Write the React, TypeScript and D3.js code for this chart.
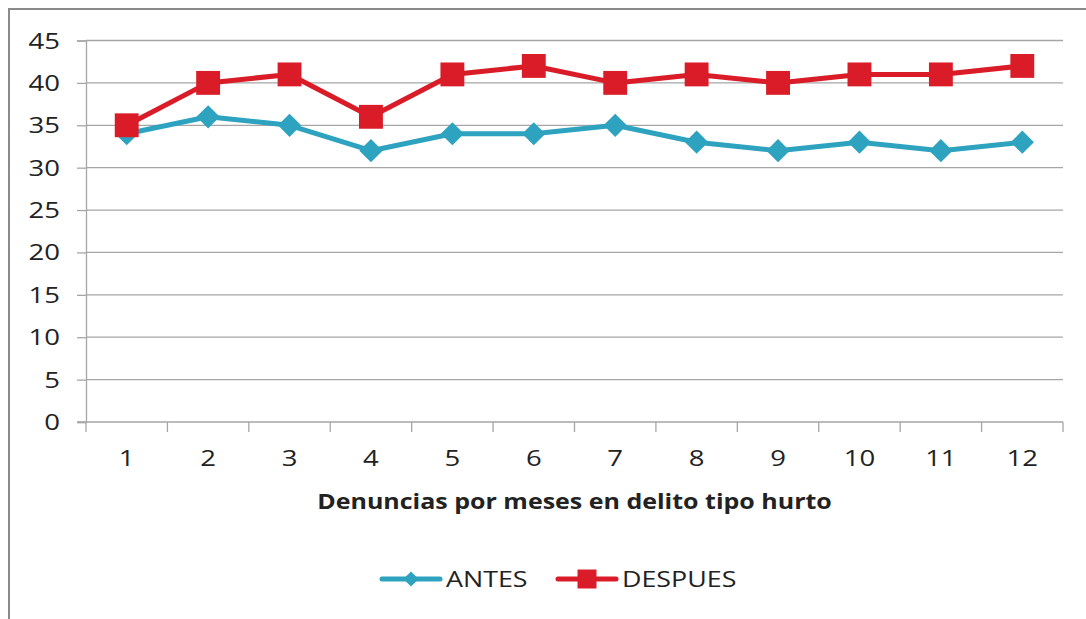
import React, { useEffect, useRef } from 'react';
import * as d3 from 'd3';

const months = ['1', '2', '3', '4', '5', '6', '7', '8', '9', '10', '11', '12'];
const antes = [34, 36, 35, 32, 34, 34, 35, 33, 32, 33, 32, 33];
const despues = [35, 40, 41, 36, 41, 42, 40, 41, 40, 41, 41, 42];
const yTicks = [0, 5, 10, 15, 20, 25, 30, 35, 40, 45];

const width = 1086;
const height = 619;
const font = '"Open Sans", sans-serif';
const textColor = '#222';
const gridColor = '#a6a6a6';
const stretch = 1.25; // the original text is a little wider than Open Sans

const App = () => {
    const svgRef = useRef<SVGSVGElement>(null);

    useEffect(() => {
        const svg = d3.select(svgRef.current);
        svg.selectAll('*').remove();

        const margin = { left: 86, right: 1063, top: 40.5, bottom: 422 };

        const x = d3.scaleBand()
            .domain(months)
            .range([margin.left, margin.right]);

        const y = d3.scaleLinear()
            .domain([0, 45])
            .range([margin.bottom, margin.top]);

        const addText = (parent, txt, px, py, anchor, size, sx, bold = false) => {
            parent.append('text')
                .attr('transform', `translate(${px},${py}) scale(${sx},1)`)
                .attr('text-anchor', anchor)
                .attr('fill', textColor)
                .style('font-family', font)
                .style('font-size', size + 'px')
                .style('font-weight', bold ? 'bold' : 'normal')
                .text(txt);
        };

        // outer frame (runs off the right and bottom edges)
        svg.append('rect')
            .attr('x', 9)
            .attr('y', 9)
            .attr('width', width + 20)
            .attr('height', height + 20)
            .attr('fill', 'none')
            .attr('stroke', '#8a8a8a')
            .attr('stroke-width', 2);

        // gridlines
        svg.append('g')
            .selectAll('line')
            .data(yTicks.filter(t => t > 0))
            .enter()
            .append('line')
            .attr('x1', margin.left)
            .attr('x2', margin.right)
            .attr('y1', d => y(d))
            .attr('y2', d => y(d))
            .attr('stroke', gridColor)
            .attr('stroke-width', 1.3);

        // y axis
        const yAxis = svg.append('g')
            .attr('transform', `translate(${margin.left},0)`)
            .call(d3.axisLeft(y).tickValues(yTicks).tickSize(9).tickFormat(() => ''));
        yAxis.select('.domain').attr('stroke', gridColor).attr('stroke-width', 1.3);
        yAxis.selectAll('.tick line').attr('stroke', gridColor).attr('stroke-width', 1.3);
        const yLabels = svg.append('g');
        yTicks.forEach(t => addText(yLabels, String(t), 60, y(t) + 8, 'end', 22, stretch));

        // x axis, ticks between categories
        const xAxisG = svg.append('g')
            .attr('transform', `translate(0,${margin.bottom})`);
        xAxisG.append('line')
            .attr('x1', margin.left - 9)
            .attr('x2', margin.right)
            .attr('stroke', gridColor)
            .attr('stroke-width', 1.3);
        const bounds = months.map(m => x(m) as number).concat([margin.right]);
        xAxisG.selectAll('.xtick')
            .data(bounds)
            .enter()
            .append('line')
            .attr('x1', d => d)
            .attr('x2', d => d)
            .attr('y1', 0)
            .attr('y2', 10)
            .attr('stroke', gridColor)
            .attr('stroke-width', 1.3);
        months.forEach(m => addText(xAxisG, m, (x(m) as number) + x.bandwidth() / 2, 44, 'middle', 22, stretch));

        // axis title
        addText(svg, 'Denuncias por meses en delito tipo hurto',
            (margin.left + margin.right) / 2, 509, 'middle', 21, 1.19, true);

        const cx = (i: number) => (x(months[i]) as number) + x.bandwidth() / 2;
        const line = d3.line<number>()
            .x((d, i) => cx(i))
            .y(d => y(d));

        // diamond = square turned 45 degrees
        const series = [
            { name: 'ANTES', values: antes, color: '#2ea3c0', size: 270, legendSize: 115, rot: 45, legendX: 380 },
            { name: 'DESPUES', values: despues, color: '#d91c27', size: 570, legendSize: 360, rot: 0, legendX: 556 },
        ];

        series.forEach(s => {
            svg.append('path')
                .attr('d', line(s.values))
                .attr('fill', 'none')
                .attr('stroke', s.color)
                .attr('stroke-width', 5)
                .attr('stroke-linejoin', 'round');

            svg.append('g')
                .selectAll('path')
                .data(s.values)
                .enter()
                .append('path')
                .attr('d', d3.symbol().type(d3.symbolSquare).size(s.size)())
                .attr('transform', (d, i) => `translate(${cx(i)},${y(d)}) rotate(${s.rot})`)
                .attr('fill', s.color);

            // legend
            const lg = svg.append('g').attr('transform', `translate(${s.legendX},579)`);
            lg.append('line')
                .attr('x1', 2)
                .attr('x2', 60)
                .attr('stroke', s.color)
                .attr('stroke-width', 5)
                .attr('stroke-linecap', 'round');
            lg.append('path')
                .attr('d', d3.symbol().type(d3.symbolSquare).size(s.legendSize)())
                .attr('transform', `translate(31,0) rotate(${s.rot})`)
                .attr('fill', s.color);
            addText(lg, s.name, 66, 8, 'start', 22, 1.22);
        });
    }, []);

    return (
        <svg ref={svgRef} width={width} height={height}
            style={{ position: 'absolute', left: 0, top: 0, background: '#fff' }} />
    );
};

export default App;
